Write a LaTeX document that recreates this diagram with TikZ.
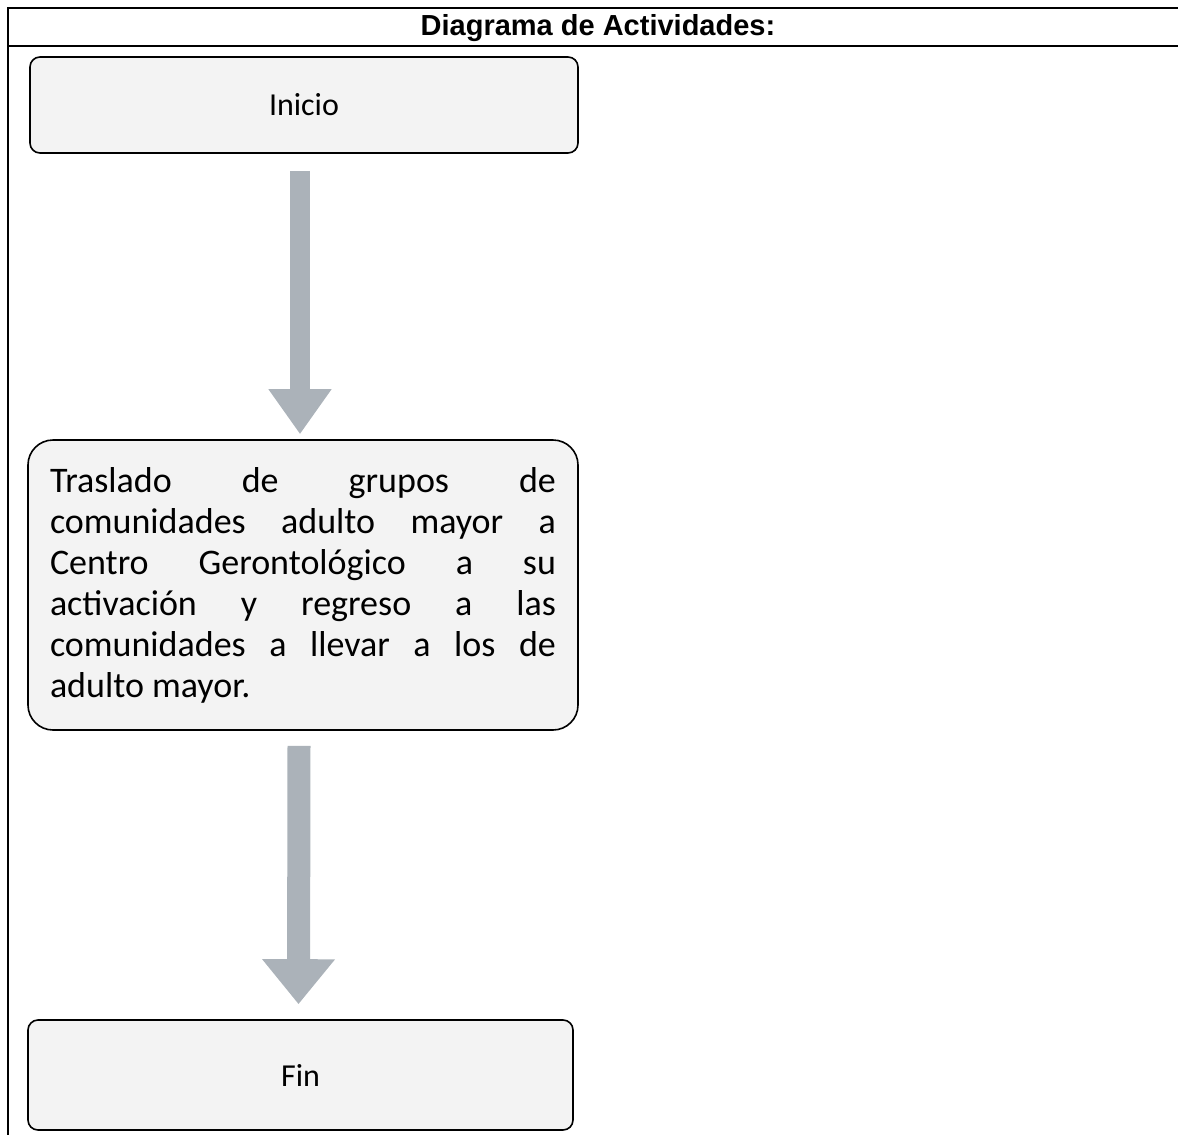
\documentclass[tikz,border=0pt]{standalone}
\usepackage{fontspec}
\setmainfont{Carlito}
\newfontfamily\titlefont{Liberation Sans}
\usetikzlibrary{arrows.meta}
\definecolor{boxfill}{HTML}{F3F3F3}
\definecolor{arrowgray}{HTML}{ABB2B9}
\tikzset{
  frame/.style={line width=2pt, black},
  stepbox/.style={draw=black, line width=1.6pt, fill=boxfill, rounded corners=10pt,
                  font=\fontsize{32}{38}\selectfont, inner sep=0pt},
  flow/.style={draw=arrowgray, line width=20pt,
               -{Triangle[width=60pt,length=45pt]}},
  wideflow/.style={flow, line width=23pt,
               -{Triangle[width=70pt,length=45pt]}},
}
\begin{document}
\begin{tikzpicture}[x=1pt,y=-1pt]
\useasboundingbox (0,0) rectangle (1178,1135);
% table frame
\draw[frame] (1178,8) -- (8,8) -- (8,1135);
\draw[frame] (8,46) -- (1178,46);
\node[font=\titlefont\bfseries\fontsize{29}{34}\selectfont] (title) at (598,28) {Diagrama de Actividades:};
% activity steps
\node[stepbox, minimum width=548pt, minimum height=96pt] (inicio) at (304,105) {Inicio};
\node[stepbox, rounded corners=25pt, minimum width=550pt, minimum height=290pt,
      font=\fontsize{36}{41}\selectfont, align=left] (proc) at (303,585)
  {\makebox[506pt][s]{Traslado de grupos de}\\
   \makebox[506pt][s]{comunidades adulto mayor a}\\
   \makebox[506pt][s]{Centro Gerontológico a su}\\
   \makebox[506pt][s]{activación y regreso a las}\\
   \makebox[506pt][s]{comunidades a llevar a los de}\\
   \makebox[506pt][l]{adulto mayor.}};
\node[stepbox, minimum width=545pt, minimum height=110pt] (fin) at (300.5,1075) {Fin};
% connectors
\draw[flow] ([xshift=-4pt,yshift=-17pt]inicio.south) -- ([xshift=-3pt,yshift=5pt]proc.north);
\draw[wideflow] ([xshift=-4pt,yshift=-15pt]proc.south) -- ([xshift=-2pt,yshift=15pt]fin.north);
\end{tikzpicture}
\end{document}
